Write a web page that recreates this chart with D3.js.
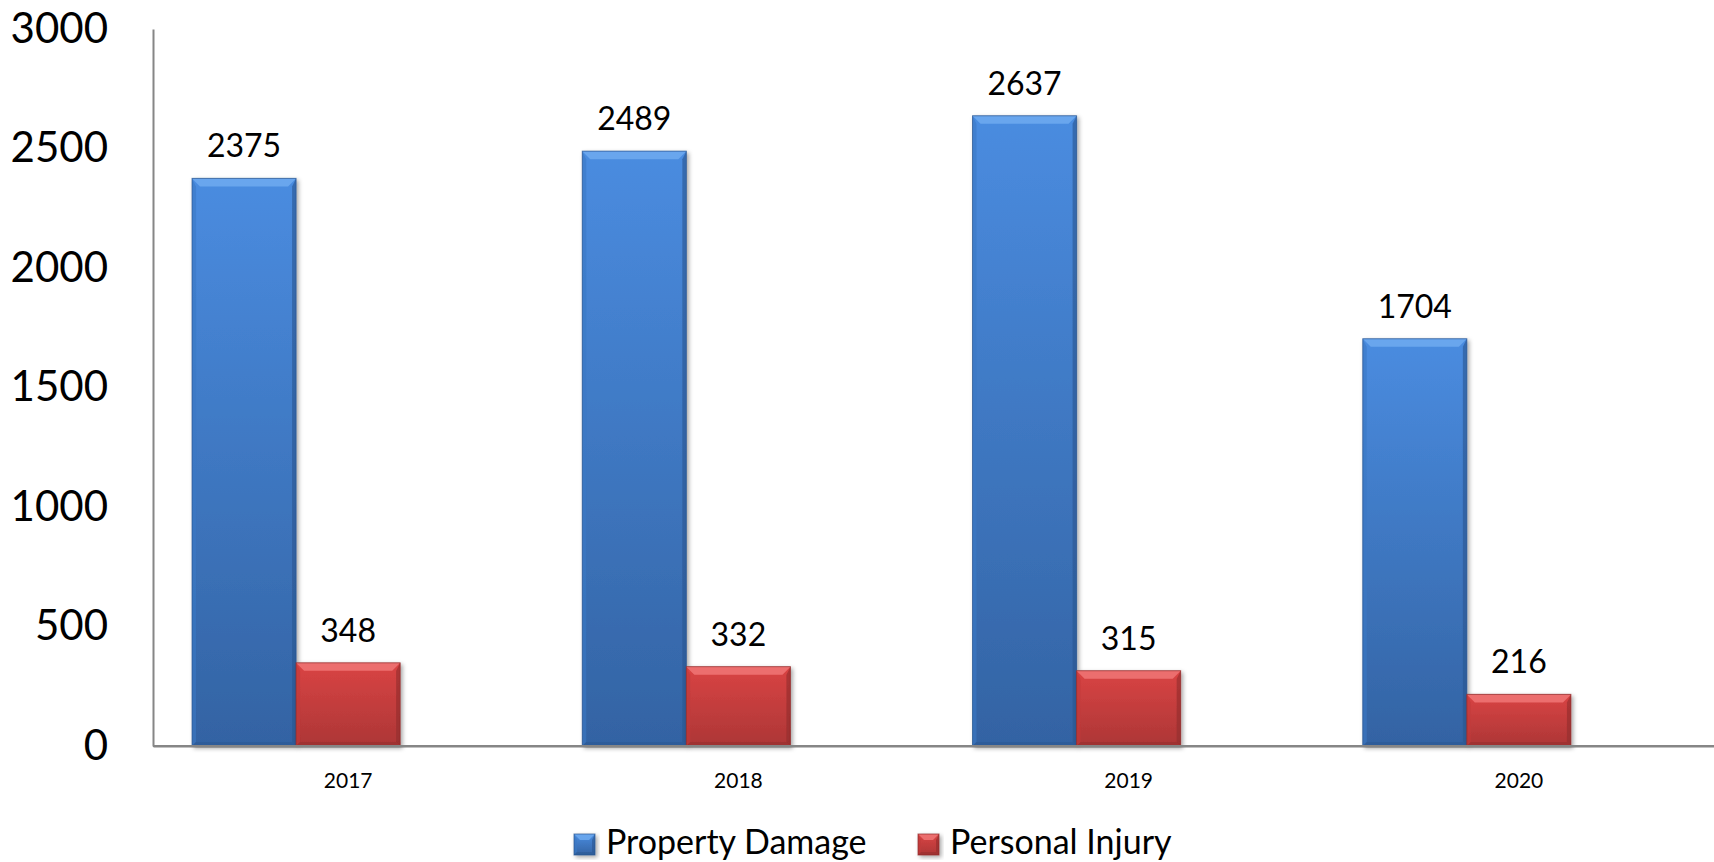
<!DOCTYPE html>
<html>
<head>
<meta charset="utf-8">
<script src="https://cdn.jsdelivr.net/npm/d3@7/dist/d3.min.js"></script>
<style>
  html, body { margin: 0; padding: 0; background: #ffffff; }
  svg { display: block; font-family: Lato, "Open Sans", sans-serif; }
</style>
</head>
<body>
<svg id="chart" width="1714" height="862"></svg>
<script>
const categories = ["2017", "2018", "2019", "2020"];
const seriesNames = ["Property Damage", "Personal Injury"];
const propertyDamage = [2375, 2489, 2637, 1704];
const personalInjury = [348, 332, 315, 216];
const yTicks = [0, 500, 1000, 1500, 2000, 2500, 3000];

const W = 1714, H = 862;
const svg = d3.select("#chart");
const defs = svg.append("defs");

const palettes = [
  { top: "#4a8ce0", bottom: "#3363a3", light: "#6eaaf0", dark: "#2a558f", side: "#3b78c4", key: "blue" },
  { top: "#d94444", bottom: "#ad3636", light: "#f07575", dark: "#8f2c2c", side: "#c23b3b", key: "red" }
];
palettes.forEach(p => {
  const g = defs.append("linearGradient").attr("id", "grad-" + p.key)
    .attr("x1", 0).attr("y1", 0).attr("x2", 0).attr("y2", 1);
  g.append("stop").attr("offset", "0%").attr("stop-color", p.top);
  g.append("stop").attr("offset", "100%").attr("stop-color", p.bottom);
});
const f = defs.append("filter").attr("id", "shadow")
  .attr("x", "-10%").attr("y", "-10%").attr("width", "130%").attr("height", "130%");
f.append("feDropShadow").attr("dx", 2).attr("dy", 2).attr("stdDeviation", 2)
  .attr("flood-color", "#000").attr("flood-opacity", 0.35);

const x = d3.scaleBand().domain(categories).range([153, W]).paddingInner(0).paddingOuter(0);
const y = d3.scaleLinear().domain([0, 3000]).range([746, 29]);
const barW = x.bandwidth() / (2 + 1.75);

// axes
const yAxis = d3.axisLeft(y).tickValues(yTicks).tickSize(0).tickPadding(45).tickFormat(d3.format("d"));
const gy = svg.append("g").attr("transform", "translate(153,0)").call(yAxis);
gy.select(".domain").attr("stroke", "#868686").attr("stroke-width", 2);
gy.selectAll("text").attr("font-size", 42).attr("fill", "#000").attr("font-family", "Lato, sans-serif");

const xAxis = d3.axisBottom(x).tickSize(0).tickPadding(27);
const gx = svg.append("g").attr("transform", "translate(0,746)").call(xAxis);
gx.select(".domain").attr("stroke", "#868686").attr("stroke-width", 2);
gx.selectAll("text").attr("font-size", 21).attr("fill", "#000").attr("font-family", "Lato, sans-serif");

const series = [propertyDamage, personalInjury];

function drawBar(g, bx, by, bw, bh, p, bevel) {
  const grp = g.append("g").attr("filter", "url(#shadow)");
  grp.append("rect").attr("x", bx).attr("y", by).attr("width", bw).attr("height", bh)
    .attr("fill", "url(#grad-" + p.key + ")");
  const b = Math.min(bevel, bh / 2);
  // top bevel
  grp.append("polygon").attr("points", [[bx, by], [bx + bw, by], [bx + bw - b, by + b], [bx + b, by + b]].join(" "))
    .attr("fill", p.light).attr("opacity", 0.85);
  // left bevel
  grp.append("polygon").attr("points", [[bx, by], [bx + b * 0.5, by + b], [bx + b * 0.5, by + bh - b * 0.5], [bx, by + bh]].join(" "))
    .attr("fill", p.side).attr("opacity", 0.6);
  // right bevel
  grp.append("polygon").attr("points", [[bx + bw, by], [bx + bw - b * 0.5, by + b], [bx + bw - b * 0.5, by + bh - b * 0.5], [bx + bw, by + bh]].join(" "))
    .attr("fill", p.dark).attr("opacity", 0.6);
  // bottom bevel
  grp.append("polygon").attr("points", [[bx, by + bh], [bx + b * 0.5, by + bh - b * 0.5], [bx + bw - b * 0.5, by + bh - b * 0.5], [bx + bw, by + bh]].join(" "))
    .attr("fill", p.dark).attr("opacity", 0.5);
  grp.append("rect").attr("x", bx).attr("y", by).attr("width", bw).attr("height", bh)
    .attr("fill", "none").attr("stroke", p.dark).attr("stroke-width", 1).attr("stroke-opacity", 0.7);
}

const barsG = svg.append("g");
const labelsG = svg.append("g");
series.forEach((vals, si) => {
  categories.forEach((c, i) => {
    const center = x(c) + x.bandwidth() / 2;
    const bx = center - 1.5 * barW + si * barW;
    const by = y(vals[i]);
    const bh = y(0) - by;
    drawBar(barsG, bx, by, barW, bh, palettes[si], 8);
    labelsG.append("text").attr("x", bx + barW / 2).attr("y", by - 21)
      .attr("text-anchor", "middle").attr("font-size", 32).attr("fill", "#000")
      .text(vals[i]);
  });
});
// redraw axis line on top
svg.append("line").attr("x1", 153).attr("x2", W).attr("y1", y(0)).attr("y2", y(0))
  .attr("stroke", "#868686").attr("stroke-width", 2);

// legend
const legendX = [574, 918];
const legend = svg.append("g");
seriesNames.forEach((name, i) => {
  const lg = legend.append("g");
  drawBar(lg, legendX[i], 834, 21, 21, palettes[i], 6);
  lg.append("text").attr("x", legendX[i] + 32).attr("y", 854)
    .attr("font-size", 34).attr("fill", "#000").text(name);
});
</script>
</body>
</html>
